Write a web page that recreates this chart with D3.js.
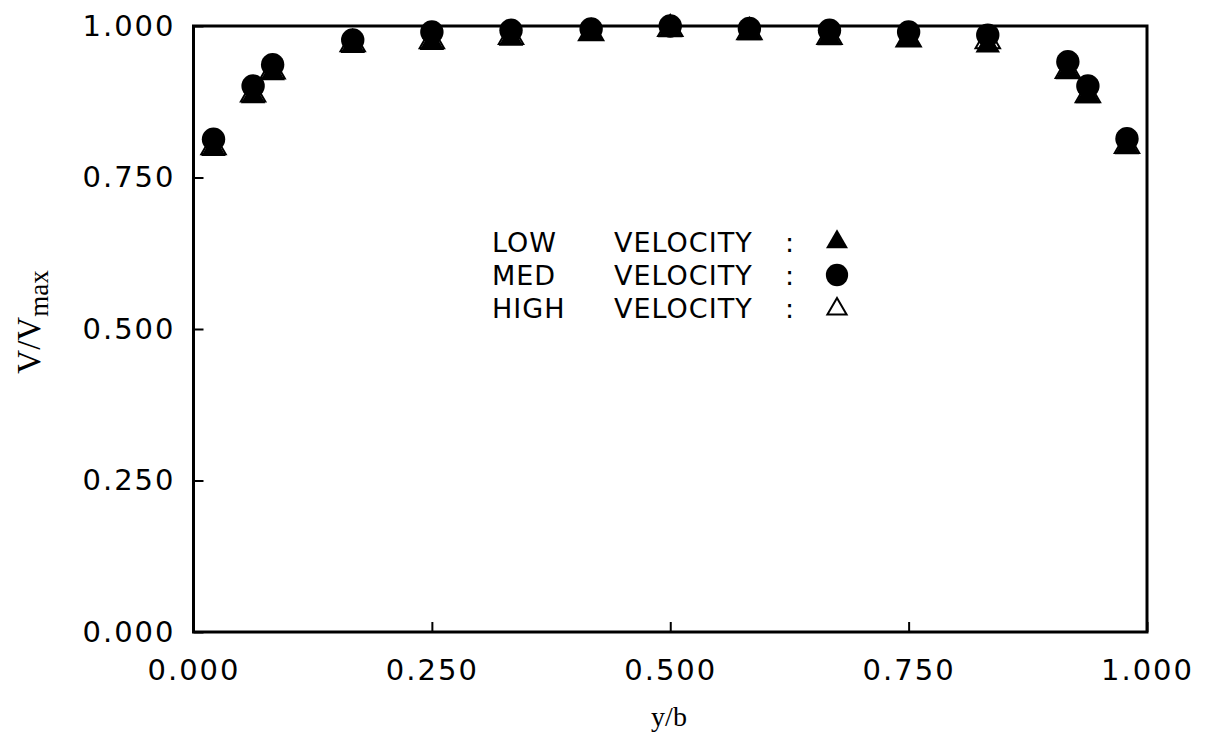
<!DOCTYPE html>
<html>
<head>
<meta charset="utf-8">
<script src="https://cdn.jsdelivr.net/npm/d3@7"></script>
<style>
  html, body { margin: 0; padding: 0; background: #fff; }
  svg { display: block; }
</style>
</head>
<body>
<svg id="chart" width="1206" height="735"></svg>
<script>
// ---- data ----
const yb = [0.021, 0.0625, 0.083, 0.167, 0.25, 0.333, 0.417, 0.5, 0.583, 0.667, 0.75, 0.833, 0.917, 0.938, 0.979];
const lowVel  = [0.797, 0.884, 0.922, 0.967, 0.972, 0.979, 0.987, 0.993, 0.988, 0.980, 0.977, 0.968, 0.924, 0.884, 0.800];
const medVel  = [0.813, 0.901, 0.936, 0.977, 0.990, 0.993, 0.995, 1.000, 0.996, 0.993, 0.990, 0.985, 0.941, 0.901, 0.814];
const highVel = [0.800, 0.887, 0.925, 0.970, 0.975, 0.982, 0.988, 0.995, 0.990, 0.982, 0.978, 0.975, 0.926, 0.886, 0.802];
const xTicks = [0, 0.25, 0.5, 0.75, 1];
const yTicks = [0, 0.25, 0.5, 0.75, 1];
const legendNames = ["LOW", "MED", "HIGH"];

// ---- layout ----
const L = 193.5, R = 1147, T = 26, B = 632;
const svg = d3.select("#chart");
const x = d3.scaleLinear().domain([0, 1]).range([L, R]);
const y = d3.scaleLinear().domain([0, 1]).range([B, T]);
const fmt = d3.format(".3f");
const tickFont = "'DejaVu Sans', sans-serif";

// axes
const gx = svg.append("g").attr("transform", `translate(0,${B})`)
  .call(d3.axisBottom(x).tickValues(xTicks).tickFormat(fmt).tickSizeInner(-10).tickSizeOuter(0).tickPadding(27));
const gy = svg.append("g").attr("transform", `translate(${L},0)`)
  .call(d3.axisLeft(y).tickValues(yTicks).tickFormat(fmt).tickSizeInner(-10).tickSizeOuter(0).tickPadding(18));
[gx, gy].forEach(g => {
  g.select(".domain").remove();
  g.selectAll(".tick line").attr("stroke", "#000").attr("stroke-width", 2);
  g.selectAll(".tick text").attr("fill", "#000")
    .style("font-family", tickFont).style("font-size", "29px").style("letter-spacing", "2px");
});

// frame
svg.append("rect").attr("x", L).attr("y", T).attr("width", R - L).attr("height", B - T)
  .attr("fill", "none").attr("stroke", "#000").attr("stroke-width", 3);

// markers
const tri = d3.symbol().type(d3.symbolTriangle).size(260);
const triSmall = d3.symbol().type(d3.symbolTriangle).size(210);
const circ = d3.symbol().type(d3.symbolCircle).size(430);

svg.append("g").selectAll("path").data(yb.map((v, i) => [v, highVel[i]])).join("path")
  .attr("d", tri).attr("transform", d => `translate(${x(d[0])},${y(d[1])})`)
  .attr("fill", "none").attr("stroke", "#000").attr("stroke-width", 2);
svg.append("g").selectAll("path").data(yb.map((v, i) => [v, lowVel[i]])).join("path")
  .attr("d", tri).attr("transform", d => `translate(${x(d[0])},${y(d[1])})`)
  .attr("fill", "#000");
svg.append("g").selectAll("path").data(yb.map((v, i) => [v, medVel[i]])).join("path")
  .attr("d", circ).attr("transform", d => `translate(${x(d[0])},${y(d[1])})`)
  .attr("fill", "#000");

// legend
const legFont = "'DejaVu Sans', sans-serif";
const lg = svg.append("g").style("font-family", legFont).style("font-size", "27px")
  .style("letter-spacing", "1px").attr("fill", "#000");
const rows = [252, 285, 318];
legendNames.forEach((n, i) => {
  lg.append("text").attr("x", 492).attr("y", rows[i]).text(n);
  lg.append("text").attr("x", 614).attr("y", rows[i]).text("VELOCITY");
  lg.append("text").attr("x", 785).attr("y", rows[i]).text(":");
});
lg.append("path").attr("d", triSmall).attr("transform", `translate(837,${rows[0] - 10})`).attr("fill", "#000");
lg.append("path").attr("d", d3.symbol().type(d3.symbolCircle).size(390)).attr("transform", `translate(837,${rows[1] - 10})`).attr("fill", "#000");
lg.append("path").attr("d", d3.symbol().type(d3.symbolTriangle).size(160)).attr("transform", `translate(837,${rows[2] - 9})`)
  .attr("fill", "none").attr("stroke", "#000").attr("stroke-width", 2);

// axis titles
const yt = svg.append("text").attr("transform", "translate(40,322) rotate(-90)")
  .attr("text-anchor", "middle").style("font-family", "'Liberation Serif', serif").style("font-size", "33px").attr("fill", "#000");
yt.append("tspan").text("V/V");
yt.append("tspan").attr("dy", 8).style("font-size", "27px").text("max");
svg.append("text").attr("x", 669).attr("y", 726).attr("text-anchor", "middle")
  .style("font-family", "'Liberation Serif', serif").style("font-size", "28px").attr("fill", "#000").text("y/b");
</script>
</body>
</html>
